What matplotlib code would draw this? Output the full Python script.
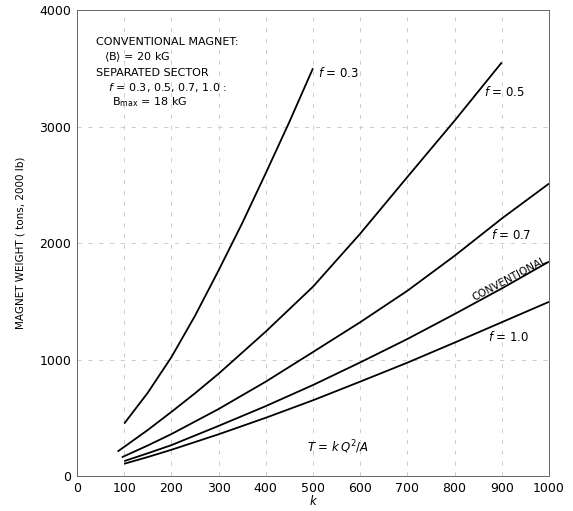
import numpy as np
import matplotlib
matplotlib.use('Agg')
import matplotlib.pyplot as plt

# magnet weight (tons) vs k
k_f03 = [100, 150, 200, 250, 300, 350, 400, 450, 500]
w_f03 = [450, 715, 1020, 1375, 1765, 2170, 2600, 3040, 3500]

k_f05 = [86, 100, 150, 200, 250, 300, 400, 500, 600, 700, 800, 900]
w_f05 = [210, 250, 395, 550, 710, 878, 1240, 1625, 2080, 2567, 3050, 3550]

k_f07 = [95, 100, 150, 200, 300, 400, 500, 600, 700, 800, 900, 1000]
w_f07 = [160, 170, 262, 360, 575, 810, 1064, 1320, 1590, 1890, 2210, 2510]

k_conv = [100, 150, 200, 300, 400, 500, 600, 700, 800, 900, 1000]
w_conv = [128, 195, 265, 430, 600, 781, 975, 1176, 1390, 1610, 1840]

k_f10 = [100, 150, 200, 300, 400, 500, 600, 700, 800, 900, 1000]
w_f10 = [105, 163, 225, 358, 500, 650, 810, 973, 1145, 1320, 1495]

xticks = list(range(0, 1001, 100))
yticks = [0, 1000, 2000, 3000, 4000]

fig = plt.figure(figsize=[5.73, 5.11], dpi=100)
ax = fig.add_axes([77/573, 35/511, 472/573, 466/511])

gridstyle = dict(color='#c4c4c4', lw=0.6, ls=(0, (5, 8)), zorder=0)
for x in xticks[1:-1]:
    ax.axvline(x, **gridstyle)
for y in yticks[1:-1]:
    ax.axhline(y, **gridstyle)

for kk, ww in [(k_f03, w_f03), (k_f05, w_f05), (k_f07, w_f07),
               (k_conv, w_conv), (k_f10, w_f10)]:
    ax.plot(kk, ww, color='k', lw=1.3, solid_capstyle='butt', solid_joinstyle='round')

ax.set_xlim(0, 1000)
ax.set_ylim(0, 4000)
ax.set_xticks(xticks)
ax.set_yticks(yticks)
ax.tick_params(length=0, labelsize=9, pad=4)
for s in ax.spines.values():
    s.set_color('#666666')
    s.set_linewidth(0.7)

ax.set_xlabel('k', style='italic', fontsize=8.5, labelpad=0)
ax.set_ylabel('MAGNET WEIGHT ( tons, 2000 lb)', fontsize=7.5, labelpad=10)

fs = 8
ax.text(40, 3725, 'CONVENTIONAL MAGNET:', fontsize=fs, va='center')
ax.text(58, 3597, r'$\langle$B$\rangle$ = 20 kG', fontsize=fs, va='center')
ax.text(40, 3459, 'SEPARATED SECTOR', fontsize=fs, va='center')
ax.text(66, 3335, r'$f$ = 0.3, 0.5, 0.7, 1.0 :', fontsize=fs, va='center')
ax.text(75, 3210, r'B$_{\rm max}$ = 18 kG', fontsize=fs, va='center')

ax.text(510, 3460, r'$f$ = 0.3', fontsize=8.5, va='center')
ax.text(862, 3300, r'$f$ = 0.5', fontsize=8.5, va='center')
ax.text(878, 2070, r'$f$ = 0.7', fontsize=8.5, va='center')
ax.text(917, 1690, 'CONVENTIONAL', fontsize=7.5, rotation=28,
        ha='center', va='center', rotation_mode='anchor')
ax.text(870, 1190, r'$f$ = 1.0', fontsize=8.5, va='center')
ax.text(488, 245, r'$T$ = $k\,Q^2/A$', fontsize=8.5, va='center')

plt.savefig('out.png', dpi=100)
plt.close()
